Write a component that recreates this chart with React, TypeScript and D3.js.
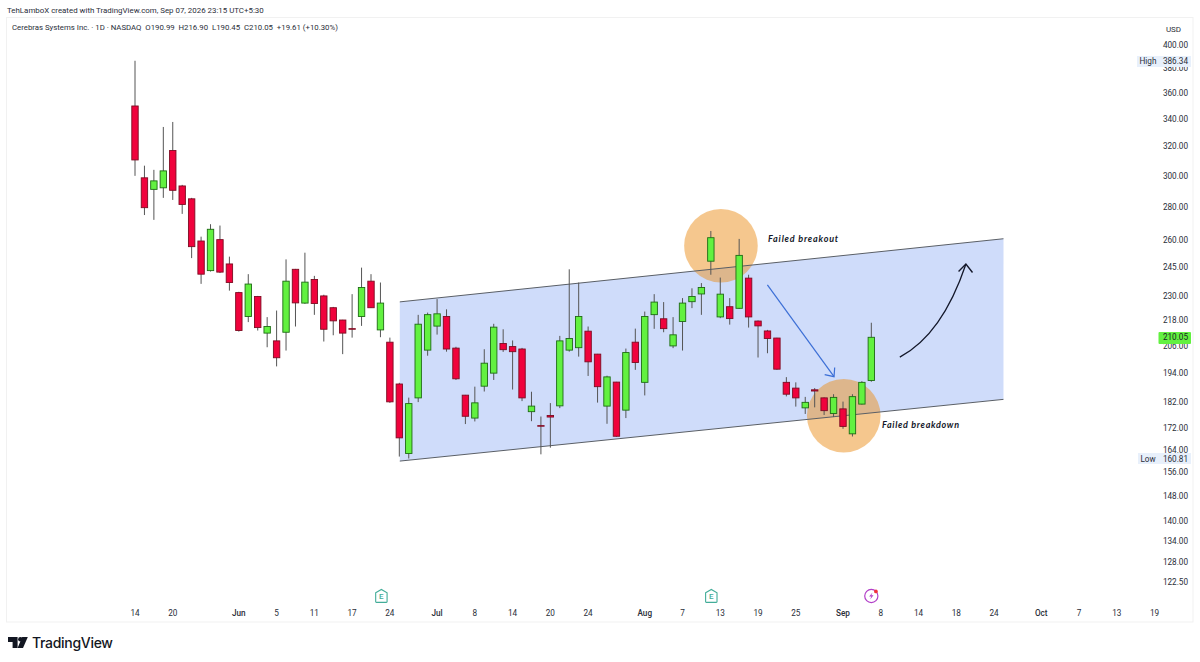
import React from "react";
import * as d3 from "d3";

const opens = [349.7,298.5,291,292,317,293.2,285,259.7,243.3,260.5,246.9,231.8,219.9,229.8,212,208.4,212.4,244,226.5,238.6,230.1,224.2,218.2,214.1,219.9,237.7,213.5,207.8,189.5,162.6,183.8,204.2,215.3,219.9,205.1,184.9,175.8,188.6,194.1,207.2,205.8,204.7,178.3,172.9,176.8,180.6,204.2,205.3,212.9,202.4,180.5,190.3,178.9,207.8,190.2,220.8,218.8,206.1,217.5,227.2,231.1,248.4,219.7,224.7,223.9,239.3,217.7,213,209.7,190.2,187.8,179.8,187.1,183.8,177.6,179.4,169.8,181.3,190.99];
const highs = [386.34,306.6,303.8,333.9,337.6,293.9,285.6,262.2,269.5,268.7,250.9,232.2,241.4,230.1,219.6,222.8,249.4,244.2,253.1,240.5,230.7,224.6,218.3,231,244.9,241.4,237,209.9,190,183.9,220.7,221.8,228.5,223.4,205.7,185,188.4,204.6,216.4,213.8,208.6,205.2,186.3,176.4,181.7,210.7,244,237,215.1,202.5,193,190.4,204.9,214.1,222.3,231,227,219.6,229,234,236.7,265.5,239.6,229,260.9,241.1,218,213.5,209.8,192.4,190.2,184.2,187.8,184,185.3,182.3,185.3,190.7,216.9];
const lows = [299.8,275,272.1,285.6,284.3,275.7,250.1,236.3,242.8,242,232.8,212.7,217.2,213.2,205.5,197,204,215.1,226.1,220.7,208.1,211,202.4,209.9,215.4,224.1,210.1,181.8,161.5,160.81,182.1,201.7,211.3,203.5,191.2,173.5,174.5,186.4,191.2,203.4,187.2,182.5,174.6,162.3,164.7,179.7,203.5,201.3,192.9,181.9,173.6,168.7,175.8,195.5,184.8,214,212.4,205.1,204,224,220.7,241.1,219.1,216,223.6,214.6,200.9,202.8,195.5,184.4,180.3,177.4,180,177,176.2,171.7,168.8,181.1,190.45];
const closes = [310.5,279.5,296.5,303.1,290.4,281.5,256.5,241.4,266.5,242.5,237,213.2,236.2,214.6,215.1,200.8,237.7,226.6,237.2,226.3,213.8,217.8,212,213.8,234.4,224.2,226.5,182.2,168.3,181.5,216.2,220.8,221.2,204.7,191.7,176.5,181.8,198.4,214.8,204.4,203.5,183.8,180.5,172.7,176.2,208.4,209.5,219.9,199,188.4,192.5,168.9,203.1,198.7,219.9,227,214.1,211.2,226.5,229.8,234.4,261.6,231,218.9,251.6,219.7,215.4,209.5,195.8,185.3,183.8,182,186.6,178.7,184,172.6,184.3,190.2,210.05];

const priceTicks = [400,380,360,340,320,300,280,260,245,230,218,206,194,182,172,164,156,148,140,134,128,122.5];
const dateLabels = ["14","20","Jun","5","11","17","24","Jul","8","14","20","24","Aug","7","13","19","25","Sep","8","14","18","24","Oct","7","13","19"];
const dateIndex = [0,4,11,15,19,23,27,32,36,40,44,48,54,58,62,66,70,75,79,83,87,91,96,100,104,108];
const boldDates = ["Jun","Jul","Aug","Sep","Oct"];

const channelTop: [number, number][] = [[28.05,227.1],[92,261]];
const channelBottom: [number, number][] = [[28.05,159.9],[92,183.2]];
const highlightCircles: [number, number][] = [[62.07,257],[75.08,176.7]];
const blueArrow: [number, number][] = [[66.99,235.8],[74.05,192.6]];
const blueHead: [number, number][] = [[73.06,193.5],[74.05,192.6],[74.12,196.5]];
const blackArrow: [number, number][] = [[81.02,201.1],[85.5,211.2],[88.02,246.8]];
const blackHead: [number, number][] = [[87.24,242.8],[88.02,246.8],[88.72,242.3]];
const earningsAt = [26.1,61.05];
const splitAt = 78;

const x = d3.scaleLinear().domain([0,108]).range([135,135+9.44*108]);
const y = d3.scaleLog().domain([122.5,400]).range([582,45]);
const pt = ([i,p]: [number, number]) => [x(i),y(p)] as [number, number];
const line = d3.line<[number, number]>().x(d => x(d[0])).y(d => y(d[1]));

const FONT = "Roboto, 'Open Sans', sans-serif";
const UP = "#62f140", UP_B = "#1e6b14", DOWN = "#f0023c", DOWN_B = "#7d0c22", WICK = "#555";

function curvePath(a: [number, number][]) {
  const p = d3.path();
  const [s,c,e] = a.map(pt);
  p.moveTo(s[0],s[1]);
  p.quadraticCurveTo(c[0],c[1],e[0],e[1]);
  return p.toString();
}

function EarningsIcon({cx}: {cx: number}) {
  return (
    <g transform={`translate(${cx},596)`}>
      <path d="M-5.7,-3.2 L0,-6.5 L5.7,-3.2 L5.7,5.8 Q5.7,6.4 5,6.4 L-5,6.4 Q-5.7,6.4 -5.7,5.8 Z" fill="#fff" stroke="#43ad99" strokeWidth={1.1} />
      <text x={0} y={3.2} textAnchor="middle" fontSize={8} fontFamily={FONT} fontWeight={500} fill="#43ad99">E</text>
    </g>
  );
}

export default function App() {
  const channel = [...channelTop, ...[...channelBottom].reverse()];
  return (
    <svg width={1200} height={662} viewBox="0 0 1200 662" style={{position:"absolute",left:0,top:0,background:"#fff"}} fontFamily={FONT}>
      <rect x={6.5} y={17.5} width={1186.5} height={604.5} fill="#fff" stroke="#f1f1f1" />
      <text x={7} y={12.5} fontSize={7.9} fill="#2a2e39">TehLamboX created with TradingView.com, Sep 07, 2026 23:15 UTC+5:30</text>
      <text x={12} y={30} fontSize={7.8} fill="#2a2e39" xmlSpace="preserve">Cerebras Systems Inc. · 1D · NASDAQ  O190.99  H216.90  L190.45  C210.05  +19.61 (+10.30%)</text>

      <path d={line(channel)+"Z"} fill="#cfdcfa" />
      {highlightCircles.map((c,i) => <circle key={i} cx={pt(c)[0]} cy={pt(c)[1]} r={36.8} fill="#ec901e" fillOpacity={0.5} />)}
      <path d={line(channelTop)!} stroke="#5a5f66" strokeWidth={1} fill="none" />
      <path d={line(channelBottom)!} stroke="#5a5f66" strokeWidth={1} fill="none" />

      {opens.map((o,i) => {
        const c = closes[i];
        const up = c >= o;
        const top = y(Math.max(o,c));
        const bot = y(Math.min(o,c));
        return (
          <g key={i}>
            <line x1={x(i)} x2={x(i)} y1={y(highs[i])} y2={y(lows[i])} stroke={WICK} strokeWidth={1} />
            <rect x={x(i)-3.2} y={top} width={6.4} height={Math.max(bot-top,0.6)} fill={up?UP:DOWN} stroke={up?UP_B:DOWN_B} strokeWidth={0.9} />
          </g>
        );
      })}

      <path d={line(blueArrow)!} stroke="#3c6fd6" strokeWidth={1.2} fill="none" />
      <path d={line(blueHead)!} stroke="#3c6fd6" strokeWidth={1.2} fill="none" />
      <path d={curvePath(blackArrow)} stroke="#14182a" strokeWidth={1.4} fill="none" />
      <path d={line(blackHead)!} stroke="#14182a" strokeWidth={1.4} fill="none" />

      <text x={768} y={242} fontSize={9} fontStyle="italic" fontWeight={700} letterSpacing={0.82} fontFamily="Lato, sans-serif" fill="#14182a">Failed breakout</text>
      <text x={882} y={428} fontSize={9} fontStyle="italic" fontWeight={700} letterSpacing={0.68} fontFamily="Lato, sans-serif" fill="#14182a">Failed breakdown</text>

      <rect x={1161} y={20} width={29} height={16} fill="#fff" />
      <text x={1173.5} y={32} textAnchor="middle" fontSize={8} fill="#2a2e39">USD</text>
      {priceTicks.map(t => (
        <text key={t} x={1175.5} y={y(t)+3} textAnchor="middle" fontSize={8.2} fill="#2a2e39">{t.toFixed(2)}</text>
      ))}

      <rect x={1137} y={56} width={54} height={11} fill="#e8f0fb" />
      <text x={1148} y={y(highs[0])+3} textAnchor="middle" fontSize={8.2} fill="#2a2e39">High</text>
      <text x={1175.5} y={y(highs[0])+3} textAnchor="middle" fontSize={8.2} fill="#2a2e39">{highs[0].toFixed(2)}</text>
      <rect x={1138} y={453} width={53} height={11} fill="#e8f0fb" />
      <text x={1148} y={y(160.81)+3} textAnchor="middle" fontSize={8.2} fill="#2a2e39">Low</text>
      <text x={1175.5} y={y(160.81)+3} textAnchor="middle" fontSize={8.2} fill="#2a2e39">160.81</text>
      <rect x={1158.5} y={332} width={32.5} height={12} rx={1} fill={UP} />
      <text x={1175.5} y={y(closes[78])+3} textAnchor="middle" fontSize={8.2} fill="#1a1d26">{closes[78].toFixed(2)}</text>

      {dateLabels.map((l,i) => (
        <text key={i} x={x(dateIndex[i])} y={616} textAnchor="middle" fontSize={8.2} fontWeight={boldDates.includes(l)?500:400} fill="#2a2e39">{l}</text>
      ))}

      {earningsAt.map(i => <EarningsIcon key={i} cx={x(i)} />)}
      <g transform={`translate(${x(splitAt)},596)`}>
        <circle r={6.6} fill="#fff" stroke="#b23fc8" strokeWidth={1.2} />
        <path d="M1.2,-3.6 L-2.2,0.6 L0,0.6 L-1.2,3.6 L2.2,-0.8 L0,-0.8 Z" fill="#b23fc8" />
        <circle cx={4.6} cy={-4.6} r={1.9} fill="#f0323c" />
      </g>

      <g fill="#131722">
        <path d="M8,637 H17.6 V648 H12.6 V642 H8 Z" />
        <circle cx={20.4} cy={639.3} r={2.3} />
        <path d="M22.2,637 H27.8 L23,648 H17.6 Z" />
      </g>
      <text x={32} y={647.5} fontSize={14} fontFamily="Inter, sans-serif" fontWeight={500} fill="#131722" letterSpacing={-0.3}>TradingView</text>
    </svg>
  );
}
